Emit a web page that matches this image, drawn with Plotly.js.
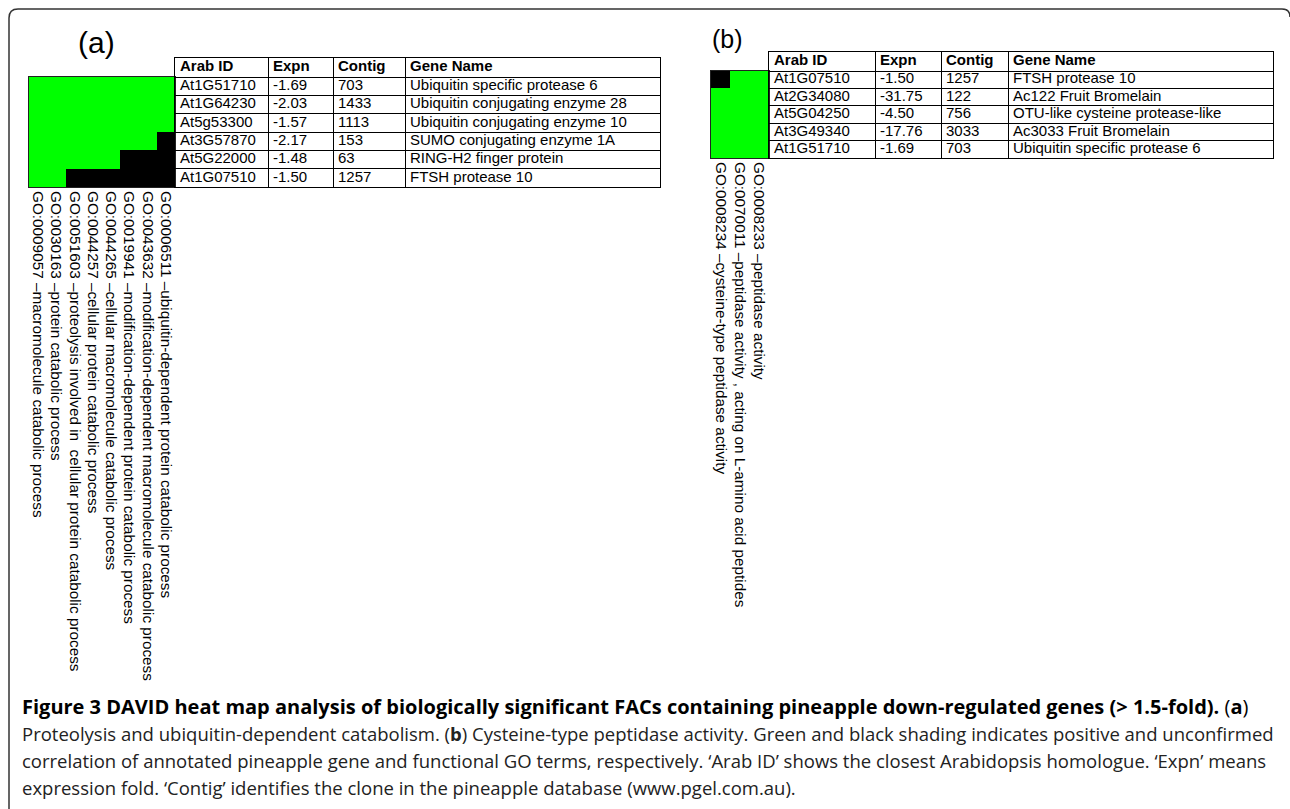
<!DOCTYPE html>
<html>
<head>
<meta charset="utf-8">
<script src="https://cdn.plot.ly/plotly-3.0.1.min.js"></script>
<style>html,body{margin:0;padding:0;background:#fff;}#chart{width:1290px;height:809px;}</style>
</head>
<body>
<div id="chart"></div>
<script>
// ---------- Data: panel (a) ----------
const goTermsA = [
  'GO:0009057 \u2013macromolecule catabolic process',
  'GO:0030163 \u2013protein catabolic process',
  'GO:0051603 \u2013proteolysis involved in  cellular protein catabolic process',
  'GO:0044257 \u2013cellular protein catabolic process',
  'GO:0044265 \u2013cellular macromolecule catabolic process',
  'GO:0019941 \u2013modification-dependent protein catabolic process',
  'GO:0043632 \u2013modification-dependent macromolecule catabolic process',
  'GO:0006511 \u2013ubiquitin-dependent protein catabolic process'
];
const arabIdA   = ['At1G51710','At1G64230','At5g53300','At3G57870','At5G22000','At1G07510'];
const expnA     = ['-1.69','-2.03','-1.57','-2.17','-1.48','-1.50'];
const contigA   = ['703','1433','1113','153','63','1257'];
const geneNameA = ['Ubiquitin specific protease 6','Ubiquitin conjugating enzyme 28','Ubiquitin conjugating enzyme 10','SUMO conjugating enzyme 1A','RING-H2 finger protein','FTSH protease 10'];
// 0 = green (positive), 1 = black (unconfirmed); one row per gene, one column per GO term
const shadeA = [
  [0,0,0,0,0,0,0,0],
  [0,0,0,0,0,0,0,0],
  [0,0,0,0,0,0,0,0],
  [0,0,0,0,0,0,0,1],
  [0,0,0,0,0,1,1,1],
  [0,0,1,1,1,1,1,1]
];

// ---------- Data: panel (b) ----------
const goTermsB = [
  'GO:0008234 \u2013cysteine-type peptidase activity',
  'GO:0070011 \u2013peptidase activity , acting on L-amino acid peptides',
  'GO:0008233 \u2013peptidase activity'
];
const arabIdB   = ['At1G07510','At2G34080','At5G04250','At3G49340','At1G51710'];
const expnB     = ['-1.50','-31.75','-4.50','-17.76','-1.69'];
const contigB   = ['1257','122','756','3033','703'];
const geneNameB = ['FTSH protease 10','Ac122 Fruit Bromelain','OTU-like cysteine protease-like','Ac3033 Fruit Bromelain','Ubiquitin specific protease 6'];
const shadeB = [
  [1,0,0],
  [0,0,0],
  [0,0,0],
  [0,0,0],
  [0,0,0]
];

const tableHeaders = ['Arab ID','Expn','Contig','Gene Name'];

// ---------- Layout helpers (pixel -> paper) ----------
const W = 1290, H = 809;
const px = x => x / W;
const py = y => 1 - y / H;

const greenBlack = [[0,'#00ff00'],[0.5,'#00ff00'],[0.5,'#000000'],[1,'#000000']];
const sansFont = 'Liberation Sans, Arial, Helvetica, sans-serif';
const captionFont = 'Open Sans, Noto Sans, sans-serif';

const axisFrame = {showline: true, mirror: true, linecolor: '#222', linewidth: 1, zeroline: false, showgrid: false, ticks: '', fixedrange: true};

const traces = [
  {
    type: 'heatmap', xaxis: 'x', yaxis: 'y',
    z: shadeA, x: goTermsA.map((_, i) => i), y: arabIdA.map((_, i) => i),
    colorscale: greenBlack, zmin: 0, zmax: 1, showscale: false, hoverinfo: 'skip'
  },
  {
    type: 'heatmap', xaxis: 'x2', yaxis: 'y2',
    z: shadeB, x: goTermsB.map((_, i) => i), y: arabIdB.map((_, i) => i),
    colorscale: greenBlack, zmin: 0, zmax: 1, showscale: false, hoverinfo: 'skip'
  }
];

const layout = {
  width: W, height: H,
  margin: {l: 0, r: 0, t: 0, b: 0},
  paper_bgcolor: '#fff', plot_bgcolor: '#fff',
  showlegend: false,
  xaxis: Object.assign({}, axisFrame, {
    domain: [px(29), px(175)], anchor: 'y', range: [-0.5, goTermsA.length - 0.5],
    tickmode: 'array', tickvals: goTermsA.map((_, i) => i), ticktext: goTermsA,
    tickangle: 90, tickfont: {family: sansFont, size: 15.3, color: '#000'}, automargin: false
  }),
  yaxis: Object.assign({}, axisFrame, {
    domain: [py(187), py(77)], anchor: 'x', range: [arabIdA.length - 0.5, -0.5],
    showticklabels: false
  }),
  xaxis2: Object.assign({}, axisFrame, {
    domain: [px(711), px(769)], anchor: 'y2', range: [-0.5, goTermsB.length - 0.5],
    tickmode: 'array', tickvals: goTermsB.map((_, i) => i), ticktext: goTermsB,
    tickangle: 90, tickfont: {family: sansFont, size: 15.3, color: '#000'}, automargin: false
  }),
  yaxis2: Object.assign({}, axisFrame, {
    domain: [py(158), py(71)], anchor: 'x2', range: [arabIdB.length - 0.5, -0.5],
    showticklabels: false
  }),
  shapes: [{
    type: 'path', xref: 'paper', yref: 'paper',
    path: `M ${px(9)} ${py(809)} L ${px(9)} ${py(18)} Q ${px(9)} ${py(9)} ${px(18)} ${py(9)} L ${px(1282)} ${py(9)} Q ${px(1290)} ${py(9)} ${px(1290)} ${py(17)}`,
    line: {color: '#333', width: 1.5}
  }],
  annotations: []
};

// ---------- Tables drawn on their own axes: grid lines = cell borders ----------
function addTable(n, cols, colWidths, box, headerH, fontSize) {
  const xa = 'xaxis' + n, ya = 'yaxis' + n;
  const total = colWidths.reduce((a, b) => a + b, 0);
  const colEdges = [0];
  colWidths.forEach(w => colEdges.push(colEdges[colEdges.length - 1] + w));
  const nRows = cols[0].length;
  const height = box.y1 - box.y0;
  const rowH = (height - headerH) / nRows;
  const rowEdges = [0, headerH];
  for (let r = 1; r <= nRows; r++) rowEdges.push(headerH + r * rowH);
  const rowMid = r => headerH + (r + 0.5) * rowH;
  const pad = 5;

  layout[xa] = Object.assign({}, axisFrame, {
    domain: [px(box.x0), px(box.x1)], anchor: 'y' + n, range: [0, total],
    showgrid: true, gridcolor: '#000', gridwidth: 1, tickmode: 'array', tickvals: colEdges,
    showticklabels: false, linecolor: '#000'
  });
  layout[ya] = Object.assign({}, axisFrame, {
    domain: [py(box.y1), py(box.y0)], anchor: 'x' + n, range: [height, 0],
    showgrid: true, gridcolor: '#000', gridwidth: 1, tickmode: 'array', tickvals: rowEdges,
    showticklabels: false, linecolor: '#000'
  });
  // header row
  traces.push({
    type: 'scatter', mode: 'text', xaxis: 'x' + n, yaxis: 'y' + n, hoverinfo: 'skip', cliponaxis: false,
    x: tableHeaders.map((_, c) => colEdges[c] + pad), y: tableHeaders.map(() => headerH / 2),
    text: tableHeaders, textposition: 'middle right',
    textfont: {family: sansFont, size: fontSize, color: '#000', weight: 'bold'}
  });
  // body columns
  cols.forEach((vals, c) => {
    traces.push({
      type: 'scatter', mode: 'text', xaxis: 'x' + n, yaxis: 'y' + n, hoverinfo: 'skip', cliponaxis: false,
      x: vals.map(() => colEdges[c] + pad), y: vals.map((_, r) => rowMid(r)),
      text: vals, textposition: 'middle right',
      textfont: {family: sansFont, size: fontSize, color: '#000'}
    });
  });
}

addTable(3, [arabIdA, expnA, contigA, geneNameA], [93, 65, 72, 255], {x0: 175, x1: 660, y0: 58, y1: 187}, 19, 15);
addTable(4, [arabIdB, expnB, contigB, geneNameB], [106, 66, 67, 265], {x0: 769, x1: 1273, y0: 52, y1: 158}, 19, 15);

// ---------- Panel letters and caption ----------
layout.annotations.push(
  {text: '(a)', x: px(96), y: py(42), xref: 'paper', yref: 'paper', showarrow: false, xanchor: 'center', yanchor: 'middle', font: {family: sansFont, size: 30, color: '#000'}},
  {text: '(b)', x: px(727), y: py(39), xref: 'paper', yref: 'paper', showarrow: false, xanchor: 'center', yanchor: 'middle', font: {family: sansFont, size: 25, color: '#000'}},
  {text: '<b>Figure 3 DAVID heat map analysis of biologically significant FACs containing pineapple down-regulated genes (&gt; 1.5-fold).</b> (<b>a</b>)',
   x: px(20), y: py(706), xref: 'paper', yref: 'paper', showarrow: false, xanchor: 'left', yanchor: 'middle', font: {family: captionFont, size: 20, color: '#000'}},
  {text: 'Proteolysis and ubiquitin-dependent catabolism. (<b>b</b>) Cysteine-type peptidase activity. Green and black shading indicates positive and unconfirmed',
   x: px(20), y: py(733), xref: 'paper', yref: 'paper', showarrow: false, xanchor: 'left', yanchor: 'middle', font: {family: captionFont, size: 18.5, color: '#222'}},
  {text: 'correlation of annotated pineapple gene and functional GO terms, respectively. \u2018Arab ID\u2019 shows the closest Arabidopsis homologue. \u2018Expn\u2019 means',
   x: px(20), y: py(760), xref: 'paper', yref: 'paper', showarrow: false, xanchor: 'left', yanchor: 'middle', font: {family: captionFont, size: 18.5, color: '#222'}},
  {text: 'expression fold. \u2018Contig\u2019 identifies the clone in the pineapple database (www.pgel.com.au).',
   x: px(20), y: py(787), xref: 'paper', yref: 'paper', showarrow: false, xanchor: 'left', yanchor: 'middle', font: {family: captionFont, size: 18.5, color: '#222'}}
);

Plotly.newPlot('chart', traces, layout, {staticPlot: true, displayModeBar: false});
</script>
</body>
</html>
